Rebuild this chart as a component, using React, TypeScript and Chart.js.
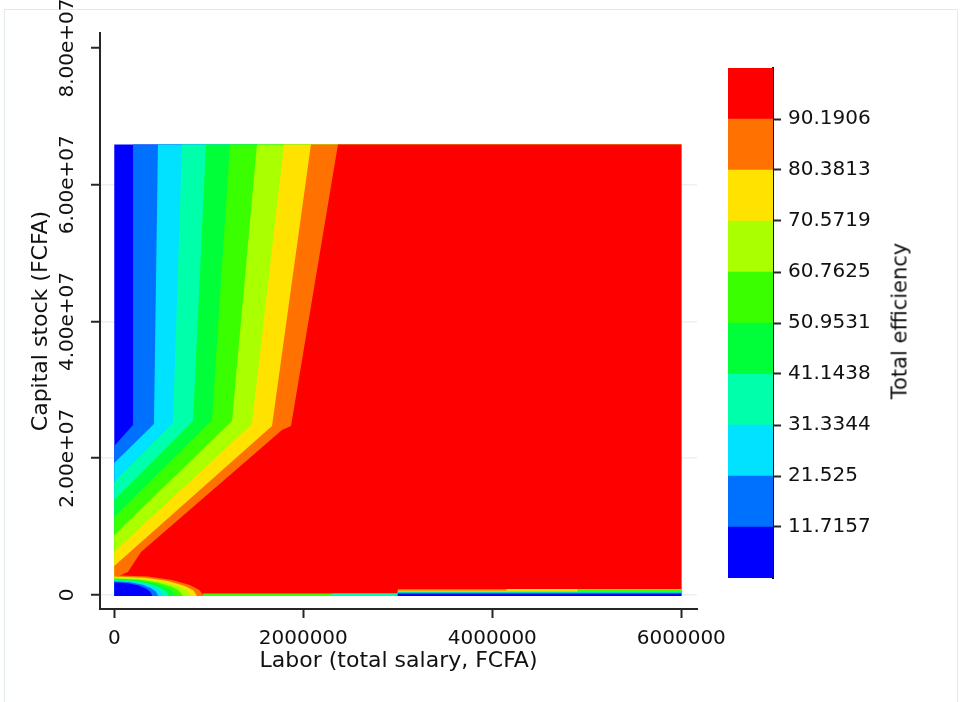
import React, { useEffect, useRef } from 'react';
import { Chart, registerables } from 'chart.js';

Chart.register(...registerables);

// ---- colour scale (Total efficiency) ----
const levels = [1.9063, 11.7157, 21.525, 31.3344, 41.1438, 50.9531, 60.7625, 70.5719, 80.3813, 90.1906, 100.0];
const levelLabels = ['11.7157', '21.525', '31.3344', '41.1438', '50.9531', '60.7625', '70.5719', '80.3813', '90.1906'];
const bandColors = ['#0000FF', '#0071FF', '#00E2FF', '#00FFAA', '#00FF39', '#39FF00', '#AAFF00', '#FFE200', '#FF7100', '#FF0000'];

// ---- axes ----
const xTicks = [0, 2000000, 4000000, 6000000];
const xTickLabels = ['0', '2000000', '4000000', '6000000'];
const yTicks = [0, 20000000, 40000000, 60000000, 80000000];
const yTickLabels = ['0', '2.00e+07', '4.00e+07', '6.00e+07', '8.00e+07'];
const xRange = [-151000, 6166000];
const yRange = [-2050000, 82200000];

// ---- data extent (labor, capital) ----
const laborMax = 6000000;
const capitalMax = 65900000;
const capitalMin = -150000;

// ---- contour boundaries: from top edge down to left edge, [labor, capital] ----
const contour1 = [[198000, 65900000], [198000, 24860000], [0, 21790000]];
const contour2 = [[462000, 65900000], [420000, 25010000], [0, 19310000]];
const contour3 = [[717000, 65900000], [621000, 25150000], [0, 16530000]];
const contour4 = [[971000, 65900000], [833000, 25450000], [0, 13890000]];
const contour5 = [[1224000, 65900000], [1034000, 25590000], [0, 11410000]];
const contour6 = [[1510000, 65900000], [1245000, 25450000], [0, 8780000]];
const contour7 = [[1796000, 65900000], [1457000, 25010000], [0, 6290000]];
const contour8 = [[2081000, 65900000], [1669000, 24720000], [0, 4240000]];
const contour9 = [[2367000, 65900000], [1870000, 24720000], [1775000, 24130000], [283000, 6290000], [145000, 3360000], [0, 2490000]];

// ---- low-efficiency pocket near the origin (outer ring first) ----
const pocket9 = [[0, 2900000], [357000, 2700000], [611000, 2180000], [800000, 1450000], [900000, 730000], [940000, 0]];
const pocket8 = [[0, 2700000], [330000, 2510000], [565000, 2030000], [740000, 1350000], [835000, 680000], [870000, 0]];
const pocket7 = [[0, 2550000], [300000, 2370000], [520000, 1910000], [680000, 1280000], [770000, 640000], [800000, 0]];
const pocket6 = [[0, 2400000], [270000, 2230000], [470000, 1800000], [610000, 1200000], [690000, 600000], [720000, 0]];
const pocket5 = [[0, 2300000], [240000, 2140000], [420000, 1720000], [540000, 1150000], [610000, 580000], [640000, 0]];
const pocket4 = [[0, 2200000], [220000, 2050000], [370000, 1650000], [480000, 1100000], [550000, 550000], [570000, 0]];
const pocket3 = [[0, 2100000], [190000, 1950000], [330000, 1580000], [430000, 1050000], [490000, 530000], [510000, 0]];
const pocket2 = [[0, 2000000], [170000, 1860000], [300000, 1500000], [390000, 1000000], [440000, 500000], [460000, 0]];
const pocket1 = [[0, 1850000], [150000, 1720000], [260000, 1390000], [340000, 930000], [380000, 460000], [400000, 0]];

// ---- thin strips along capital ~ 0 ----
const stripA = [[940000, -150000], [940000, 200000], [3000000, 200000], [3000000, -150000]];
const stripB = [[2300000, -150000], [2300000, 200000], [3000000, 200000], [3000000, -150000]];
const stripR9 = [[3000000, -150000], [3000000, 880000], [6000000, 880000], [6000000, -150000]];
const stripR8 = [[3000000, -150000], [3000000, 650000], [4150000, 650000], [4150000, 880000], [6000000, 880000], [6000000, -150000]];
const stripR6 = [[3000000, -150000], [3000000, 520000], [4900000, 520000], [4900000, 880000], [6000000, 880000], [6000000, -150000]];
const stripR4 = [[3000000, -150000], [3000000, 420000], [6000000, 420000], [6000000, -150000]];
const stripR2 = [[3000000, -150000], [3000000, 320000], [6000000, 320000], [6000000, -150000]];
const stripR1 = [[3000000, -150000], [3000000, 180000], [6000000, 180000], [6000000, -150000]];

const contours = [contour1, contour2, contour3, contour4, contour5, contour6, contour7, contour8, contour9];
const pockets = [pocket9, pocket8, pocket7, pocket6, pocket5, pocket4, pocket3, pocket2, pocket1];
const pocketBands = [8, 7, 6, 5, 4, 3, 2, 1, 0];
const strips = [stripA, stripB, stripR9, stripR8, stripR6, stripR4, stripR2, stripR1];
const stripBands = [5, 3, 8, 7, 5, 3, 1, 0];

const FONT = '"DejaVu Sans", "Liberation Sans", Arial, sans-serif';
const TEXT = '#111111';
const AXIS = '#262626';

type Layer = { pts: number[][]; band: number };

function buildLayers(): Layer[] {
  const layers: Layer[] = [];
  layers.push({
    pts: [[0, capitalMin], [0, capitalMax], [laborMax, capitalMax], [laborMax, capitalMin]],
    band: 0,
  });
  contours.forEach((c, i) => {
    layers.push({
      pts: [...c, [0, capitalMin], [laborMax, capitalMin], [laborMax, capitalMax]],
      band: i + 1,
    });
  });
  pockets.forEach((p, i) => {
    layers.push({
      pts: [[0, capitalMin], ...p, [p[p.length - 1][0], capitalMin]],
      band: pocketBands[i],
    });
  });
  strips.forEach((s, i) => layers.push({ pts: s, band: stripBands[i] }));
  return layers;
}

export default function App() {
  const mainRef = useRef<HTMLCanvasElement>(null);
  const barRef = useRef<HTMLCanvasElement>(null);

  useEffect(() => {
    const meas = document.createElement('canvas').getContext('2d')!;
    meas.font = `20px ${FONT}`;
    const widest = Math.max(...yTickLabels.map((t) => meas.measureText(t).width));
    const yTickPad = 100 - 9 - 68 - widest / 2;

    const layers = buildLayers();
    const datasets = layers.map((l, i) => ({
      data: l.pts.map(([x, y]) => ({ x, y })),
      backgroundColor: bandColors[l.band],
      borderColor: bandColors[l.band],
      borderWidth: 0,
      pointRadius: 0,
      pointHoverRadius: 0,
      fill: 'shape',
      tension: 0,
      order: layers.length - i,
    }));

    const main = new Chart(mainRef.current!, {
      type: 'line',
      data: { datasets } as any,
      options: {
        responsive: false,
        animation: false,
        devicePixelRatio: 1,
        events: [],
        layout: { padding: { left: 0, top: 33, right: 264, bottom: 0 } },
        plugins: { legend: { display: false }, tooltip: { enabled: false } },
        scales: {
          x: {
            type: 'linear',
            min: xRange[0],
            max: xRange[1],
            afterBuildTicks: (s: any) => {
              s.ticks = xTicks.map((v) => ({ value: v }));
            },
            afterFit: (s: any) => {
              s.height = 93;
            },
            ticks: {
              autoSkip: false,
              minRotation: 0,
              maxRotation: 0,
              padding: 9,
              color: TEXT,
              font: { family: FONT, size: 20 },
              callback: (v: any) => xTickLabels[xTicks.indexOf(Number(v))] ?? '',
            },
            grid: { drawOnChartArea: false, tickLength: 9, tickWidth: 2, tickColor: AXIS },
            border: { display: true, color: AXIS, width: 2 },
            title: {
              display: true,
              text: 'Labor (total salary, FCFA)',
              color: TEXT,
              font: { family: FONT, size: 22 },
              padding: { top: 0, bottom: 27.3 },
            },
          },
          y: {
            type: 'linear',
            min: yRange[0],
            max: yRange[1],
            afterBuildTicks: (s: any) => {
              s.ticks = yTicks.map((v) => ({ value: v }));
            },
            afterFit: (s: any) => {
              s.width = 100;
            },
            ticks: {
              autoSkip: false,
              minRotation: 90,
              maxRotation: 90,
              crossAlign: 'center',
              padding: yTickPad,
              color: TEXT,
              font: { family: FONT, size: 20 },
              callback: (v: any) => yTickLabels[yTicks.indexOf(Number(v))] ?? '',
            },
            grid: {
              color: (ctx: any) => (ctx.tick && ctx.tick.value === 80000000 ? 'rgba(0,0,0,0)' : '#eaf2f3'),
              lineWidth: 1.5,
              tickLength: 9,
              tickWidth: 2,
              tickColor: AXIS,
            },
            border: { display: true, color: AXIS, width: 2 },
            title: {
              display: true,
              text: 'Capital stock (FCFA)',
              color: TEXT,
              font: { family: FONT, size: 22 },
              padding: { top: 27.8, bottom: 0 },
            },
          },
        },
      } as any,
    });

    const bar = new Chart(barRef.current!, {
      type: 'bar',
      data: {
        labels: [''],
        datasets: bandColors.map((c, i) => ({
          data: [[levels[i], levels[i + 1]]],
          backgroundColor: c,
          borderWidth: 0,
          grouped: false,
          barPercentage: 1,
          categoryPercentage: 1,
        })),
      } as any,
      options: {
        responsive: false,
        animation: false,
        devicePixelRatio: 1,
        events: [],
        layout: { padding: { left: 28, top: 68, right: 0, bottom: 124 } },
        plugins: { legend: { display: false }, tooltip: { enabled: false } },
        scales: {
          x: { display: false },
          y: {
            position: 'right',
            min: levels[0],
            max: levels[levels.length - 1],
            afterBuildTicks: (s: any) => {
              s.ticks = levels.slice(1, levels.length - 1).map((v) => ({ value: v }));
            },
            afterFit: (s: any) => {
              s.width = 188;
            },
            ticks: {
              autoSkip: false,
              padding: 7,
              color: TEXT,
              font: { family: FONT, size: 20 },
              callback: (v: any) => levelLabels[levels.indexOf(Number(v)) - 1] ?? '',
            },
            grid: { drawOnChartArea: false, tickLength: 8, tickWidth: 2, tickColor: AXIS },
            border: { display: true, color: '#111111', width: 2 },
          },
        },
      } as any,
    });

    return () => {
      main.destroy();
      bar.destroy();
    };
  }, []);

  return (
    <div
      style={{
        position: 'fixed',
        left: 0,
        top: 0,
        width: 961,
        height: 702,
        background: '#ffffff',
        overflow: 'hidden',
      }}
    >
      <div
        style={{
          position: 'absolute',
          left: 4,
          top: 9,
          width: 952,
          height: 720,
          borderLeft: '1px solid #e3eaec',
          borderTop: '1px solid #e3eaec',
          borderRight: '1px solid #e3eaec',
        }}
      />
      <canvas ref={mainRef} width={961} height={702} style={{ position: 'absolute', left: 0, top: 0 }} />
      <canvas ref={barRef} width={261} height={702} style={{ position: 'absolute', left: 700, top: 0 }} />
      <div
        style={{
          position: 'absolute',
          left: 900,
          top: 321,
          transform: 'translate(-50%, -50%) rotate(-90deg)',
          whiteSpace: 'nowrap',
          fontFamily: FONT,
          fontSize: 21,
          color: TEXT,
          lineHeight: 1,
        }}
      >
        Total efficiency
      </div>
    </div>
  );
}
